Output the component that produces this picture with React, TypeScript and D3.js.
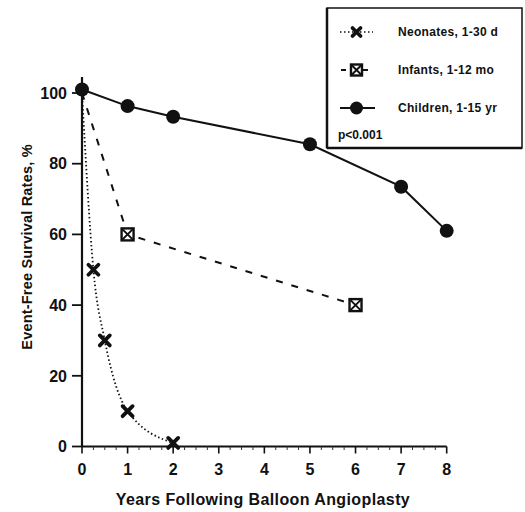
import React from "react";
import * as d3 from "d3";

const neoX = [0, 0.25, 0.5, 1, 2];
const neoY = [100, 50, 30, 10, 1];
const infX = [0, 1, 6];
const infY = [100, 60, 40];
const chiX = [0, 1, 2, 5, 7, 8];
const chiY = [101, 96.3, 93.3, 85.5, 73.5, 61];
const xTicks = [0, 1, 2, 3, 4, 5, 6, 7, 8];
const yTicks = [0, 20, 40, 60, 80, 100];
const legendLabels = ["Neonates, 1-30 d", "Infants, 1-12 mo", "Children, 1-15 yr"];
const pText = "p<0.001";
const xTitle = "Years Following Balloon Angioplasty";
const yTitle = "Event-Free Survival Rates, %";

const FONT = "'Liberation Sans', Arial, sans-serif";

function XMark({ x, y, s = 6 }: { x: number; y: number; s?: number }) {
  return (
    <g transform={`translate(${x},${y})`}>
      <path d={`M${-s},${-s}L${s},${s}M${-s},${s}L${s},${-s}`} stroke="#111" strokeWidth={3.8} strokeLinecap="round" />
    </g>
  );
}
function BoxMark({ x, y, s = 6 }: { x: number; y: number; s?: number }) {
  return (
    <g transform={`translate(${x},${y})`}>
      <rect x={-s} y={-s} width={2 * s} height={2 * s} fill="#fff" stroke="#111" strokeWidth={2.4} />
      <path d={`M${-s},${-s}L${s},${s}M${-s},${s}L${s},${-s}`} stroke="#111" strokeWidth={2} />
    </g>
  );
}

export default function App() {
  const x = d3.scaleLinear().domain([0, 8]).range([82, 446.7]);
  const y = d3.scaleLinear().domain([0, 100]).range([446.5, 93]);

  const neoLine = d3
    .line<number>()
    .x((_, i) => x(neoX[i]))
    .y((d) => y(d))
    .curve(d3.curveMonotoneX)(neoY);
  const infLine = d3
    .line<number>()
    .x((_, i) => x(infX[i]))
    .y((d) => y(d))(infY);
  const chiLine = d3
    .line<number>()
    .x((_, i) => x(chiX[i]))
    .y((d) => y(d))(chiY);

  const minor = d3.range(0, 8.01, 0.25).filter((v) => Math.abs(v - Math.round(v)) > 1e-6);

  const lx0 = 340, lx1 = 373, lmid = 356.5;
  const rows = [32, 70, 108];

  return (
    <svg width={525} height={512} style={{ position: "absolute", left: 0, top: 0, background: "#fff" }} fontFamily={FONT}>
      <rect width={525} height={512} fill="#fff" />
      {/* lines */}
      <path d={neoLine || ""} fill="none" stroke="#111" strokeWidth={1.8} strokeDasharray="1.5 2.5" />
      <path d={infLine || ""} fill="none" stroke="#111" strokeWidth={2} strokeDasharray="7 9" />
      <path d={chiLine || ""} fill="none" stroke="#111" strokeWidth={2} />

      {/* axes */}
      <line x1={x(0)} x2={x(0)} y1={y(0)} y2={77} stroke="#111" strokeWidth={2.2} />
      <line x1={x(0)} x2={x(8)} y1={y(0)} y2={y(0)} stroke="#111" strokeWidth={2} />
      {yTicks.map((t) => (
        <g key={"y" + t}>
          <line x1={x(0) - 10} x2={x(0)} y1={y(t)} y2={y(t)} stroke="#111" strokeWidth={1.8} />
          <text x={67} y={y(t)} dy="0.36em" textAnchor="end" fontWeight="bold" fontSize={16} fill="#111">
            {t}
          </text>
        </g>
      ))}
      {xTicks.map((t) => (
        <g key={"x" + t}>
          <line x1={x(t)} x2={x(t)} y1={y(0)} y2={y(0) + 7} stroke="#111" strokeWidth={1.6} />
          <text x={x(t)} y={475} textAnchor="middle" fontWeight="bold" fontSize={16} fill="#111">
            {t}
          </text>
        </g>
      ))}
      {minor.map((t) => (
        <line key={"m" + t} x1={x(t)} x2={x(t)} y1={y(0)} y2={y(0) + 3.5} stroke="#333" strokeWidth={1} />
      ))}

      {/* markers */}
      {chiX.map((v, i) => (
        <circle key={"c" + i} cx={x(v)} cy={y(chiY[i])} r={7} fill="#111" />
      ))}
      {infX.slice(1).map((v, i) => (
        <BoxMark key={"b" + i} x={x(v)} y={y(infY[i + 1])} />
      ))}
      {neoX.slice(1).map((v, i) => (
        <XMark key={"n" + i} x={x(v)} y={y(neoY[i + 1])} s={5} />
      ))}

      {/* titles */}
      <text x={263} y={505} textAnchor="middle" fontWeight="bold" fontSize={16} letterSpacing={0.4} fill="#111">
        {xTitle}
      </text>
      <text transform="translate(32,247) rotate(-90)" textAnchor="middle" fontWeight="bold" fontSize={14.5} letterSpacing={0.2} fill="#111">
        {yTitle}
      </text>

      {/* legend */}
      <rect x={327} y={8} width={195} height={140} fill="#fff" stroke="#111" strokeWidth={1.5} />
      <line x1={327} x2={327} y1={8} y2={148} stroke="#111" strokeWidth={2.5} />
      <line x1={327} x2={522} y1={148} y2={148} stroke="#111" strokeWidth={2.5} />
      <line x1={lx0} x2={lx1} y1={rows[0]} y2={rows[0]} stroke="#111" strokeWidth={1.6} strokeDasharray="1.5 2.5" />
      <XMark x={lmid} y={rows[0]} s={4} />
      <line x1={lx0} x2={lx1} y1={rows[1]} y2={rows[1]} stroke="#111" strokeWidth={2} strokeDasharray="5 17" strokeDashoffset={-1} />
      <BoxMark x={lmid} y={rows[1]} s={5.5} />
      <line x1={lx0} x2={lx1 + 2} y1={rows[2]} y2={rows[2]} stroke="#111" strokeWidth={2.2} />
      <circle cx={lmid} cy={rows[2]} r={6.5} fill="#111" />
      {legendLabels.map((l, i) => (
        <text key={l} x={398} y={rows[i]} dy="0.35em" fontWeight="bold" fontSize={12} letterSpacing={0.3} fill="#111">
          {l}
        </text>
      ))}
      <text x={338} y={139} fontWeight="bold" fontSize={12} fill="#111">
        {pText}
      </text>
    </svg>
  );
}
